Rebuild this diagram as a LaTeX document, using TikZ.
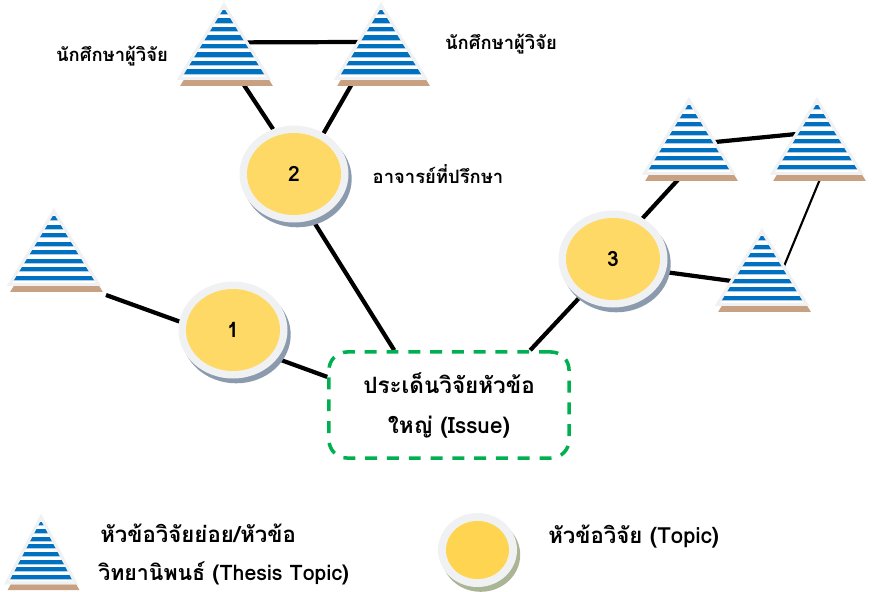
\documentclass[tikz,border=0pt]{standalone}
\usepackage{fontspec}
\usetikzlibrary{shapes.geometric,shadows,backgrounds}
\newfontfamily\thaifont[Script=Thai]{Loma}
\definecolor{ringgrey}{RGB}{240,241,242}
\definecolor{discyellow}{RGB}{255,217,102}
\definecolor{keyyellow}{RGB}{255,212,80}
\definecolor{ringshade}{RGB}{140,154,174}
\definecolor{keyshade}{RGB}{170,181,150}
\definecolor{stripeblue}{RGB}{0,112,192}
\definecolor{stripepale}{RGB}{170,205,235}
\definecolor{tribrown}{RGB}{200,160,130}
\definecolor{issuegreen}{RGB}{0,176,80}
\tikzset{
    tribox/.style 2 args={isosceles triangle, isosceles triangle stretches, shape border rotate=90,
        minimum width=#1*0.025cm, minimum height=#2*0.025cm, inner sep=0pt, outer sep=0pt, anchor=apex,
        fill=white, draw=ringgrey, line width=2.1pt,
        drop shadow={shadow xshift=0.06cm, shadow yshift=-0.14cm, shadow scale=1.04, fill=tribrown, opacity=1}},
    topicring/.style 2 args={ellipse, fill=ringgrey, inner sep=0pt, outer sep=0pt,
        minimum width=#1*0.025cm, minimum height=#2*0.025cm},
    topicdisc/.style 2 args={ellipse, fill=discyellow, inner sep=0pt, outer sep=0pt,
        minimum width=#1*0.025cm, minimum height=#2*0.025cm, font=\thaifont\bfseries\fontsize{15}{17}\selectfont},
    ringshadow/.style={drop shadow={shadow xshift=0.08cm, shadow yshift=-0.12cm, fill=#1, opacity=1}},
    smalltext/.style={font=\thaifont\bfseries\fontsize{13.1}{15}\selectfont, inner sep=0pt},
    keytext/.style={font=\thaifont\bfseries\fontsize{15.8}{19}\selectfont, inner sep=0pt},
    link/.style={line width=3pt, black},
    thinlink/.style={line width=1.5pt, black}
}
\begin{document}
\begin{tikzpicture}[x=0.025cm, y=-0.025cm]
    \useasboundingbox (0, 0) rectangle (872, 591);

    \node[tribox={89}{73.5}] (triTL) at (224, 5) {};
    \node[tribox={89}{73.5}] (triTR) at (381, 5) {};
    \node[tribox={89}{73.5}] (triL) at (54, 211) {};
    \node[tribox={89}{73.5}] (triA) at (689, 100) {};
    \node[tribox={89}{73.5}] (triB) at (817, 100) {};
    \node[tribox={89}{73.5}] (triC) at (762, 231) {};
    \node[tribox={69}{66}] (triKey) at (41, 517) {};

    \foreach \tri/\stretch in {triTL/1, triTR/1, triL/1, triA/1, triB/1, triC/1, triKey/0.9} {
        \begin{scope}
            \clip (\tri.apex) -- (\tri.left corner) -- (\tri.right corner) -- cycle;
            \foreach \n in {0,...,7} {
                \fill[stripepale, shift={(\tri.apex)}, yscale=\stretch] (-60, 5+8.5*\n) rectangle (60, 10.4+8.5*\n);
                \fill[stripeblue, shift={(\tri.apex)}, yscale=\stretch] (-60, 5+8.5*\n) rectangle (60, 9.2+8.5*\n);
            }
        \end{scope}
        \draw[ringgrey, line width=2.1pt] (\tri.apex) -- (\tri.left corner) -- (\tri.right corner) -- cycle;
    }

    \node[topicring={109}{97}, ringshadow=ringshade] (ringOne) at (233, 330) {};
    \node[topicdisc={94}{82}] (discOne) at (ringOne) {\raisebox{-2.2pt}{1}};
    \node[topicring={109}{97}, ringshadow=ringshade] (ringTwo) at (294, 174) {};
    \node[topicdisc={94}{82}] (discTwo) at (ringTwo) {\raisebox{-2.8pt}{2}};
    \node[topicring={109}{97}, ringshadow=ringshade] (ringThree) at (613, 259) {};
    \node[topicdisc={94}{82}] (discThree) at (ringThree) {\raisebox{-2.2pt}{3}};
    \node[topicring={79}{74}, ringshadow=keyshade] (ringKey) at (477.5, 550) {};
    \node[topicdisc={63}{58}, fill=keyyellow] (discKey) at (ringKey) {};

    \node[draw=issuegreen, line width=2.5pt, rounded corners=0.45cm, dash pattern=on 8.5pt off 7pt,
        minimum width=6cm, minimum height=2.65cm, inner sep=0pt, align=center,
        font=\thaifont\bfseries\fontsize{16}{28.4}\selectfont] (issue) at (449, 405)
        {ประเด็นวิจัยหัวข้อ\\ใหญ่ (Issue)};

    \node[smalltext] (labelTL) at (112, 56) {นักศึกษาผู้วิจัย};
    \node[smalltext] (labelTR) at (501, 44) {นักศึกษาผู้วิจัย};
    \node[smalltext] (labelTwo) at (438, 174) {อาจารย์ที่ปรึกษา};
    \node[keytext, anchor=west] (keyTriOne) at (100, 533) {หัวข้อวิจัยย่อย/หัวข้อ};
    \node[keytext, anchor=west, font=\thaifont\bfseries\fontsize{15.2}{18}\selectfont] (keyTriTwo) at (98, 573) {วิทยานิพนธ์ (Thesis Topic)};
    \node[keytext, anchor=west] (keyDisc) at (548, 537) {หัวข้อวิจัย (Topic)};

    \coordinate (triLend) at (106, 295);

    \begin{scope}[on background layer]
        \draw[link] (triTL.26.6) -- (triTR.153.4);
        \draw[link] (triTL.-58.7) -- (ringTwo.115);
        \draw[link] (triTR.-136) -- (ringTwo.54);
        \draw[link, shorten <=0.1cm] (ringTwo.-68) -- (issue.135);
        \draw[link] (triLend) -- (ringOne.171);
        \draw[link] (ringOne.-33) -- (issue.167);
        \draw[link] (ringThree.-131) -- (issue.34);
        \draw[link] (ringThree.54) -- (triA.-102);
        \draw[link] (triA.14.5) -- (triB.145.8);
        \draw[link] (ringThree.-14) -- (triC.183.5);
        \draw[thinlink] (triB.-78) -- (triC.30);
    \end{scope}
\end{tikzpicture}
\end{document}
